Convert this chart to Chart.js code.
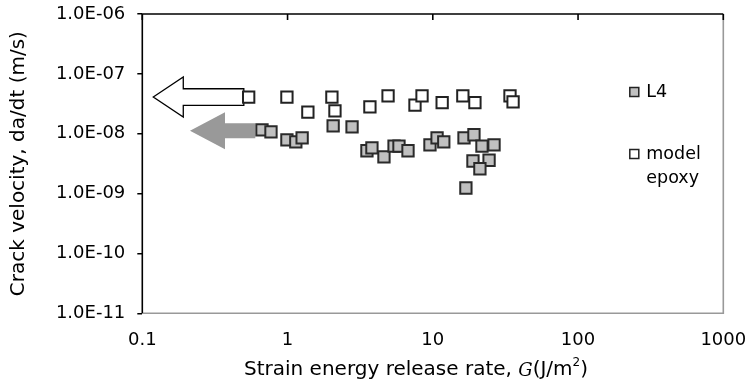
<!DOCTYPE html>
<html lang="en">
  <head>
    <meta charset="UTF-8" />
    <title>Crack velocity vs strain energy release rate</title>
    <script src="https://cdn.jsdelivr.net/npm/chart.js"></script>
    <style>
      html, body { margin: 0; padding: 0; background: #fff; }
    </style>
  </head>
  <body>
    <canvas id="crackChart" width="748" height="384"></canvas>
    <script>
      // axis ticks (log decades)
      const xTicks = [0.1, 1, 10, 100, 1000]
      const xTickLabels = ["0.1", "1", "10", "100", "1000"]
      const yTicks = [1e-11, 1e-10, 1e-9, 1e-8, 1e-7, 1e-6]
      const yTickLabels = ["1.0E-11", "1.0E-10", "1.0E-09", "1.0E-08", "1.0E-07", "1.0E-06"]

      // L4 (grey squares)
      const l4G = [0.667, 0.769, 0.99, 1.14, 1.26, 2.06, 2.78, 3.52, 3.81, 4.61, 5.41, 5.85, 6.75,
        9.56, 10.7, 11.9, 16.4, 19.2, 21.8, 26.4, 18.9, 24.4, 21.1, 16.9]
      const l4V = [1.16e-8, 1.07e-8, 7.9e-9, 7.3e-9, 8.5e-9, 1.35e-8, 1.3e-8, 5.2e-9, 5.8e-9, 4.1e-9,
        6.2e-9, 6.2e-9, 5.2e-9, 6.5e-9, 8.5e-9, 7.3e-9, 8.5e-9, 9.6e-9, 6.2e-9, 6.5e-9, 3.5e-9,
        3.6e-9, 2.6e-9, 1.24e-9]

      // model epoxy (white squares)
      const epoxyG = [0.54, 0.99, 1.38, 2.02, 2.12, 3.69, 4.92, 7.54, 8.43, 11.6, 16.1, 19.5, 34.0, 35.7]
      const epoxyV = [4.1e-8, 4.1e-8, 2.3e-8, 4.1e-8, 2.4e-8, 2.8e-8, 4.3e-8, 3.0e-8, 4.3e-8,
        3.3e-8, 4.3e-8, 3.3e-8, 4.3e-8, 3.4e-8]

      // arrows pointing towards lower G (in data units)
      const arrowFrom = [0.5, 0.6]
      const arrowTo = [0.119, 0.213]
      const arrowV = [4.1e-8, 1.12e-8]

      const FONT = "DejaVu Sans"
      Chart.defaults.font.family = FONT
      Chart.defaults.font.size = 18
      Chart.defaults.color = "#000"

      function toPoints(xs, ys) {
        return xs.map((g, i) => ({ x: g, y: ys[i] }))
      }

      const arrowStyle = [
        { fill: "#fff", stroke: "#000", head: 30, headHalf: 20, shaftHalf: 8.3 },
        { fill: "#999", stroke: null, head: 35, headHalf: 18.5, shaftHalf: 7.5 },
      ]

      // frame, top ticks and arrows under the points
      const framePlugin = {
        id: "framePlugin",
        beforeDatasetsDraw(chart) {
          const { ctx, chartArea: a, scales } = chart
          const x = scales.x, y = scales.y
          ctx.save()
          arrowFrom.forEach((from, i) => {
            const st = arrowStyle[i]
            const x0 = x.getPixelForValue(from)
            const x1 = x.getPixelForValue(arrowTo[i])
            const yc = y.getPixelForValue(arrowV[i])
            const xb = x1 + st.head
            ctx.beginPath()
            ctx.moveTo(x1, yc)
            ctx.lineTo(xb, yc - st.headHalf)
            ctx.lineTo(xb, yc - st.shaftHalf)
            ctx.lineTo(x0, yc - st.shaftHalf)
            ctx.lineTo(x0, yc + st.shaftHalf)
            ctx.lineTo(xb, yc + st.shaftHalf)
            ctx.lineTo(xb, yc + st.headHalf)
            ctx.closePath()
            ctx.fillStyle = st.fill
            ctx.fill()
            if (st.stroke) {
              ctx.lineWidth = 1.3
              ctx.strokeStyle = st.stroke
              ctx.stroke()
            }
          })
          ctx.lineWidth = 1.6
          ctx.strokeStyle = "#999"
          ctx.beginPath()
          ctx.moveTo(a.right, a.top)
          ctx.lineTo(a.right, a.bottom)
          ctx.lineTo(a.left, a.bottom)
          ctx.stroke()
          ctx.strokeStyle = "#000"
          ctx.beginPath()
          ctx.moveTo(a.left, a.bottom)
          ctx.lineTo(a.left, a.top)
          ctx.lineTo(a.right, a.top)
          ctx.stroke()
          xTicks.forEach((v) => {
            const px = x.getPixelForValue(v)
            ctx.beginPath()
            ctx.moveTo(px, a.top)
            ctx.lineTo(px, a.top + 6)
            ctx.stroke()
          })
          ctx.restore()
        },
        afterDraw(chart) {
          const { ctx, chartArea: a } = chart
          ctx.save()
          // legend inside the plot
          const lx = a.right - 89
          const items = [
            { fill: "#c0c0c0", y: a.top + 78, lines: ["L4"] },
            { fill: "#fff", y: a.top + 140, lines: ["model", "epoxy"] },
          ]
          ctx.font = "17.5px " + FONT
          ctx.textBaseline = "middle"
          ctx.textAlign = "left"
          items.forEach((it) => {
            ctx.fillStyle = it.fill
            ctx.fillRect(lx - 4.5, it.y - 4.5, 9, 9)
            ctx.lineWidth = 1.5
            ctx.strokeStyle = "#222"
            ctx.strokeRect(lx - 4.5, it.y - 4.5, 9, 9)
            ctx.fillStyle = "#000"
            it.lines.forEach((t, k) => ctx.fillText(t, lx + 12, it.y + k * 24))
          })

          // axis titles
          ctx.font = "20px " + FONT
          ctx.save()
          ctx.translate(19, (a.top + a.bottom) / 2)
          ctx.rotate(-Math.PI / 2)
          ctx.textAlign = "center"
          ctx.fillText("Crack velocity, da/dt (m/s)", 0, 0)
          ctx.restore()

          const parts = [
            { t: "Strain energy release rate, ", f: "20px " + FONT, dy: 0 },
            { t: "G", f: "italic 18px 'DejaVu Serif'", dy: 1 },
            { t: "(J/m", f: "20px " + FONT, dy: 0 },
            { t: "2", f: "12px " + FONT, dy: -7 },
            { t: ")", f: "20px " + FONT, dy: 0 },
          ]
          let total = 0
          parts.forEach((p) => { ctx.font = p.f; p.w = ctx.measureText(p.t).width; total += p.w })
          let cx = 416 - total / 2
          const ty = 370
          parts.forEach((p) => {
            ctx.font = p.f
            ctx.fillText(p.t, cx, ty + p.dy)
            cx += p.w
          })
          ctx.restore()
        },
      }

      new Chart(document.getElementById("crackChart"), {
        type: "scatter",
        data: {
          datasets: [
            {
              label: "model epoxy",
              data: toPoints(epoxyG, epoxyV),
              pointStyle: "rect",
              pointRadius: 8,
              backgroundColor: "#fff",
              borderColor: "#222",
              borderWidth: 2,
            },
            {
              label: "L4",
              data: toPoints(l4G, l4V),
              pointStyle: "rect",
              pointRadius: 8,
              backgroundColor: "#c0c0c0",
              borderColor: "#2a2a2a",
              borderWidth: 2,
            },
          ],
        },
        options: {
          responsive: false,
          animation: false,
          devicePixelRatio: 1,
          layout: { padding: { top: 14, right: 24.7, left: 0, bottom: 0 } },
          plugins: { legend: { display: false }, tooltip: { enabled: false } },
          scales: {
            x: {
              type: "logarithmic",
              min: 0.1,
              max: 1000,
              afterBuildTicks: (s) => { s.ticks = xTicks.map((v) => ({ value: v })) },
              afterFit: (s) => {
                s.height = 70.7
                s.paddingLeft = 0
                s.paddingRight = 0
              },
              grid: { display: false, drawTicks: false },
              border: { display: false },
              ticks: {
                padding: 16,
                autoSkip: false,
                maxRotation: 0,
                callback: (v, i) => xTickLabels[i],
              },
            },
            y: {
              type: "logarithmic",
              min: 1e-11,
              max: 1e-6,
              afterBuildTicks: (s) => { s.ticks = yTicks.map((v) => ({ value: v })) },
              afterFit: (s) => {
                s.width = 142.3
                s.paddingTop = 0
                s.paddingBottom = 0
              },
              grid: { drawOnChartArea: false, tickLength: 5, color: "#000", lineWidth: 1.5 },
              border: { display: false },
              ticks: {
                padding: 12,
                autoSkip: false,
                callback: (v, i) => yTickLabels[i],
              },
            },
          },
        },
        plugins: [framePlugin],
      })
    </script>
  </body>
</html>
